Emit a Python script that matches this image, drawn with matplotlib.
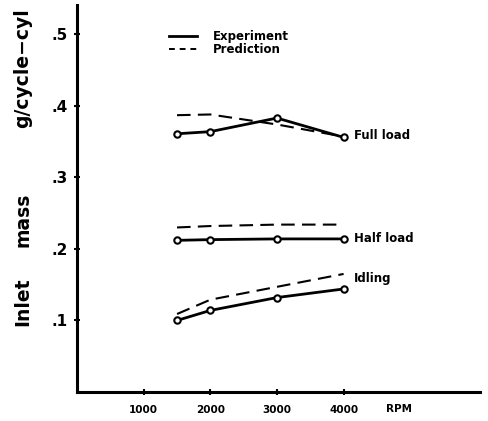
import numpy as np
import matplotlib.pyplot as plt

# engine speed (RPM) and inlet mass (g/cycle-cyl)
rpm = [1500, 2000, 3000, 4000]
full_exp = [0.361, 0.364, 0.383, 0.356]
full_pred = [0.387, 0.388, 0.374, 0.357]
half_exp = [0.212, 0.213, 0.214, 0.214]
half_pred = [0.230, 0.232, 0.234, 0.234]
idle_exp = [0.100, 0.114, 0.132, 0.144]
idle_pred = [0.109, 0.129, 0.147, 0.165]

x_ticks = [1000, 2000, 3000, 4000]
y_ticks = [0.1, 0.2, 0.3, 0.4, 0.5]
y_tick_labels = ['.1', '.2', '.3', '.4', '.5']
curve_labels = ['Full load', 'Half load', 'Idling']

fig = plt.figure(figsize=(4.88, 4.21), dpi=100)
ax = fig.add_axes([0.158, 0.069, 0.826, 0.919])

for exp, pred in [(full_exp, full_pred), (half_exp, half_pred), (idle_exp, idle_pred)]:
    ax.plot(rpm, exp, color='black', lw=2.0, marker='o', ms=4.6,
            mfc='white', mec='black', mew=1.5, zorder=3)
    ax.plot(rpm, pred, color='black', lw=1.5, ls=(0, (6.5, 3.5)), zorder=2)

# curve names placed to the right of the last point
label_y = [full_exp[-1] + 0.003, half_exp[-1], idle_exp[-1] + 0.015]
for name, yv in zip(curve_labels, label_y):
    ax.text(4160, yv, name, fontsize=8.5, fontweight='bold', va='center', ha='left')

ax.set_xlim(0, 6050)
ax.set_ylim(0, 0.541)

ax.set_xticks(x_ticks)
ax.set_xticklabels([str(v) for v in x_ticks], fontsize=7.5, fontweight='bold')
ax.set_yticks(y_ticks)
ax.set_yticklabels(y_tick_labels, fontsize=11, fontweight='bold')
ax.tick_params(direction='inout', length=5, width=1.5, pad=7)
ax.tick_params(axis='y', pad=4)

for side in ['top', 'right']:
    ax.spines[side].set_visible(False)
for side in ['left', 'bottom']:
    ax.spines[side].set_linewidth(2.2)

ax.text(4640, -0.024, 'RPM', fontsize=7.5, fontweight='bold', ha='left', va='center', clip_on=False)

# y label words spread out as in the original
for word, fy in [('Inlet', 1 - 302 / 421), ('mass', 1 - 220 / 421), ('g/cycle\u2212cyl', 1 - 68 / 421)]:
    fig.text(0.047, fy, word, rotation=90, fontsize=13.5, fontweight='bold',
             ha='center', va='center')

# hand drawn style legend
ax.plot([1380, 1800], [0.4975, 0.4975], color='black', lw=2.0)
ax.plot([1380, 1800], [0.479, 0.479], color='black', lw=1.4, ls=(0, (3, 2.5)))
ax.text(2040, 0.4975, 'Experiment', fontsize=8.5, fontweight='bold', va='center')
ax.text(2040, 0.479, 'Prediction', fontsize=8.5, fontweight='bold', va='center')

fig.savefig('out.png', dpi=100)
